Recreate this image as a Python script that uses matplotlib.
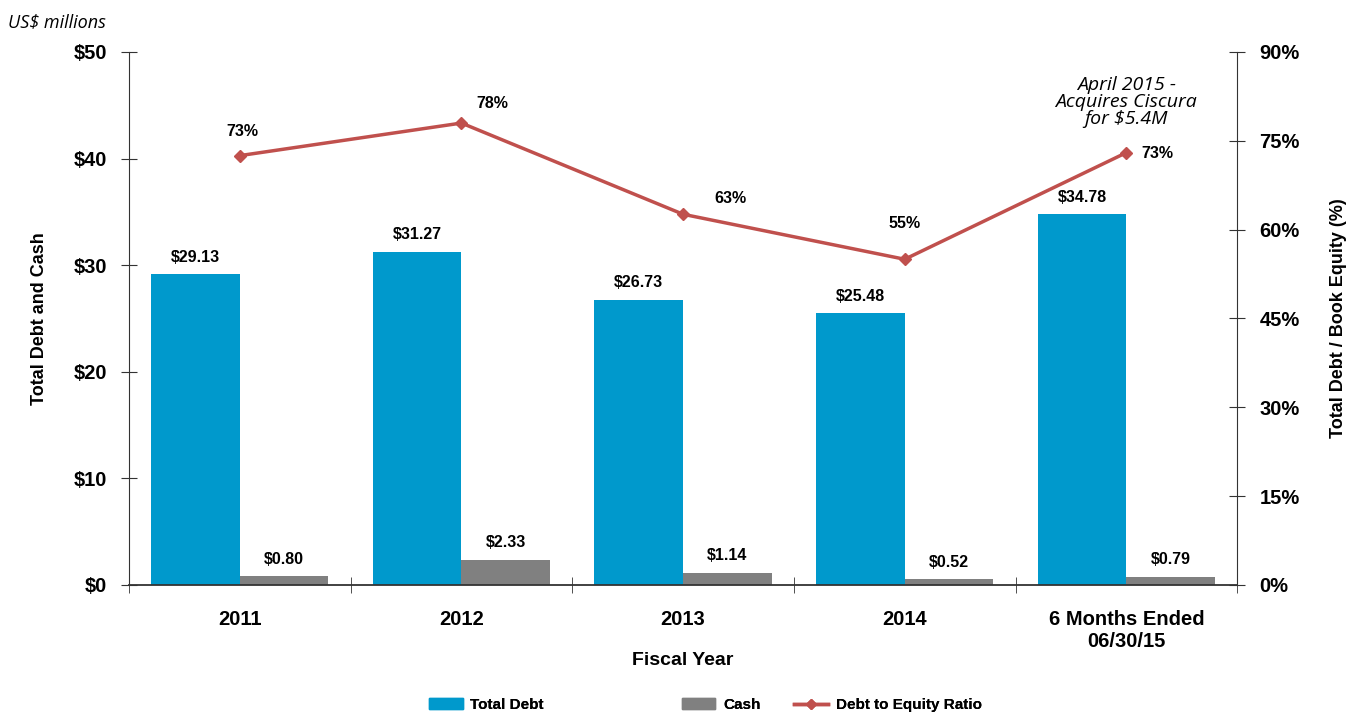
import numpy as np
import matplotlib.pyplot as plt
from matplotlib.lines import Line2D
from matplotlib.patches import Patch

categories = ["2011", "2012", "2013", "2014", "6 Months Ended\n06/30/15"]
total_debt = [29.13, 31.27, 26.73, 25.48, 34.78]
cash = [0.80, 2.33, 1.14, 0.52, 0.79]
de_ratio = [0.725, 0.78, 0.626, 0.55, 0.73]
de_labels = ["73%", "78%", "63%", "55%", "73%"]
legend_names = ["Total Debt", "Cash", "Debt to Equity Ratio"]

BLUE = "#0099cc"
GRAY = "#808080"
RED = "#c0504d"
TXT = "#000000"
plt.rcParams["font.family"] = ["Liberation Sans", "DejaVu Sans"]

fig = plt.figure(figsize=(13.58, 7.2), dpi=100)
ax = fig.add_axes([0.095, 0.1875, 0.816, 0.7403])
x = np.arange(len(categories))
w = 0.4

b1 = ax.bar(x - w / 2, total_debt, w, color=BLUE, zorder=2)
b2 = ax.bar(x + w / 2, cash, w, color=GRAY, zorder=2)
for rect, v in zip(list(b1) + list(b2), total_debt + cash):
    ax.annotate(f"${v:.2f}", (rect.get_x() + rect.get_width() / 2, v),
                xytext=(0, 7), textcoords="offset points", ha="center",
                va="bottom", fontsize=11.5, fontweight="bold", color=TXT)

ax.set_xlim(-0.5, len(categories) - 0.5)
ax.set_ylim(0, 50)
ax.set_yticks(np.arange(0, 51, 10))
ax.set_yticklabels([f"${v}" for v in range(0, 51, 10)], fontsize=14.5, fontweight="bold")
ax.set_xticks(x)
ax.set_xticklabels(categories, fontsize=14.5, fontweight="bold")
ax.set_xticks(np.arange(-0.5, len(categories)), minor=True)
ax.tick_params(axis="x", which="major", length=0, pad=18)
ax.tick_params(axis="x", which="minor", length=12, direction="inout", color="#333333")
ax.tick_params(axis="y", length=12, direction="inout", color="#333333", pad=10)
for s in ["top", "right"]:
    ax.spines[s].set_visible(False)
ax.spines["left"].set_color("#333333")
ax.spines["bottom"].set_color("#333333")
ax.spines["bottom"].set_linewidth(1.3)
ax.set_xlabel("Fiscal Year", fontsize=14, fontweight="bold", labelpad=1)
ax.set_ylabel("Total Debt and Cash", fontsize=13, fontweight="bold", labelpad=18)

ax2 = ax.twinx()
ax2.set_ylim(0, 0.9)
ax2.set_yticks(np.arange(0, 0.91, 0.15))
ax2.set_yticklabels([f"{int(round(v * 100))}%" for v in np.arange(0, 0.91, 0.15)],
                    fontsize=14.5, fontweight="bold")
ax2.tick_params(axis="y", length=12, direction="inout", color="#333333", pad=10)
for s in ["top", "left", "bottom"]:
    ax2.spines[s].set_visible(False)
ax2.spines["right"].set_color("#333333")
ax2.set_ylabel("Total Debt / Book Equity (%)", fontsize=13, fontweight="bold", labelpad=22)
ax2.plot(x, de_ratio, color=RED, lw=2.5, marker="D", ms=6, zorder=3)

offsets = [(2, 12), (22, 9), (34, 6), (0, 20), (22, -6)]
for xi, v, lab, off in zip(x, de_ratio, de_labels, offsets):
    ax2.annotate(lab, (xi, v), xytext=off, textcoords="offset points",
                 ha="center", va="bottom", fontsize=11.5, fontweight="bold")

ax2.text(4, 0.772, "April 2015 -\nAcquires Ciscura\nfor $5.4M", ha="center", va="bottom",
         fontsize=14, style="italic", family="Open Sans", linespacing=0.92)
fig.text(0.006, 0.962, "US$ millions", fontsize=13, style="italic", family="Open Sans")

handles = [Patch(color=BLUE), Patch(color=GRAY),
           Line2D([0], [0], color=RED, lw=2.5, marker="D", ms=5)]
for h, name, lx in zip(handles, legend_names, [0.316, 0.502, 0.585]):
    leg = fig.legend([h], [name], loc="center left", bbox_to_anchor=(lx, 0.021),
                     frameon=False, borderpad=0, borderaxespad=0, handlelength=2.2,
                     handletextpad=0.5, prop={"weight": "bold", "size": 11})
    fig.add_artist(leg)

fig.savefig("out.png", dpi=100)
